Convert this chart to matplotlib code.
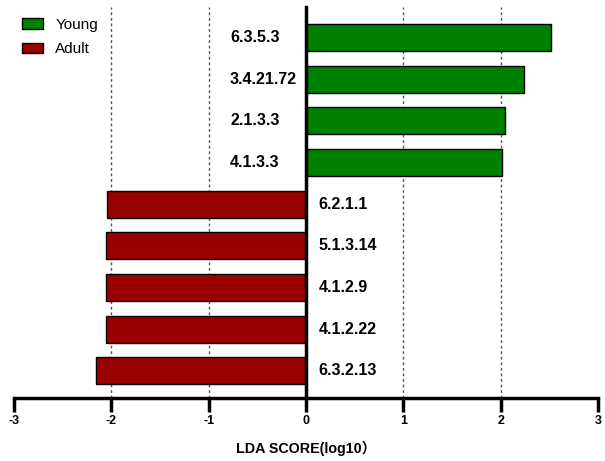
import matplotlib
matplotlib.use("Agg")
import matplotlib.pyplot as plt
from matplotlib.patches import Patch

plt.rcParams['font.family'] = ['Liberation Sans', 'Noto Sans CJK SC', 'DejaVu Sans']

# LDA scores per feature, listed top to bottom
features = ["6.3.5.3", "3.4.21.72", "2.1.3.3", "4.1.3.3",
            "6.2.1.1", "5.1.3.14", "4.1.2.9", "4.1.2.22", "6.3.2.13"]
scores = [2.52, 2.24, 2.04, 2.01, -2.04, -2.05, -2.05, -2.05, -2.16]
groups = ["Young", "Young", "Young", "Young",
          "Adult", "Adult", "Adult", "Adult", "Adult"]
group_colors = {"Young": "#008000", "Adult": "#990000"}
xticks = [-3, -2, -1, 0, 1, 2, 3]

fig = plt.figure(figsize=(6.05, 4.61), dpi=100)
ax = fig.add_axes([0.0231, 0.1367, 0.9653, 0.8481])

n = len(features)
ypos = [n - 1 - i for i in range(n)]
colors = [group_colors[g] for g in groups]

# dashed reference lines behind the bars
for x in [-2, -1, 1, 2]:
    ax.axvline(x, color="#555555", linestyle=(0, (2, 2)), linewidth=1, zorder=0)

ax.barh(ypos, scores, height=0.65, color=colors, edgecolor="black",
        linewidth=1, zorder=2)

# feature names on the opposite side of the zero line
for y, name, s in zip(ypos, features, scores):
    if s > 0:
        ax.text(-0.78, y, name, ha="left", va="center",
                fontsize=11.5, fontweight="bold")
    else:
        ax.text(0.13, y, name, ha="left", va="center",
                fontsize=11.5, fontweight="bold")

ax.set_xlim(-3, 3)
ax.set_ylim(-0.65, n - 1 + 0.73)
ax.set_xticks(xticks)
ax.set_xticklabels([str(t) for t in xticks], fontweight="bold", fontsize=9)
ax.set_yticks([])

ax.spines["left"].set_position(("data", 0))
ax.spines["left"].set_linewidth(2.5)
ax.spines["bottom"].set_linewidth(2.5)
ax.spines["top"].set_visible(False)
ax.spines["right"].set_visible(False)
ax.tick_params(axis="x", direction="out", length=10, width=2.5, pad=2)

ax.set_xlabel("LDA SCORE(log10\uff09", fontweight="bold", fontsize=10.3,
              labelpad=10)

handles = [Patch(facecolor=group_colors["Young"], edgecolor="black", label="Young"),
           Patch(facecolor=group_colors["Adult"], edgecolor="black", label="Adult")]
ax.legend(handles=handles, loc="upper left", frameon=False, fontsize=11,
          handlelength=1.4, handleheight=0.7, handletextpad=0.8,
          labelspacing=0.7, bbox_to_anchor=(0.0, 0.992), borderaxespad=0.1)

fig.savefig("out.png", dpi=100)
